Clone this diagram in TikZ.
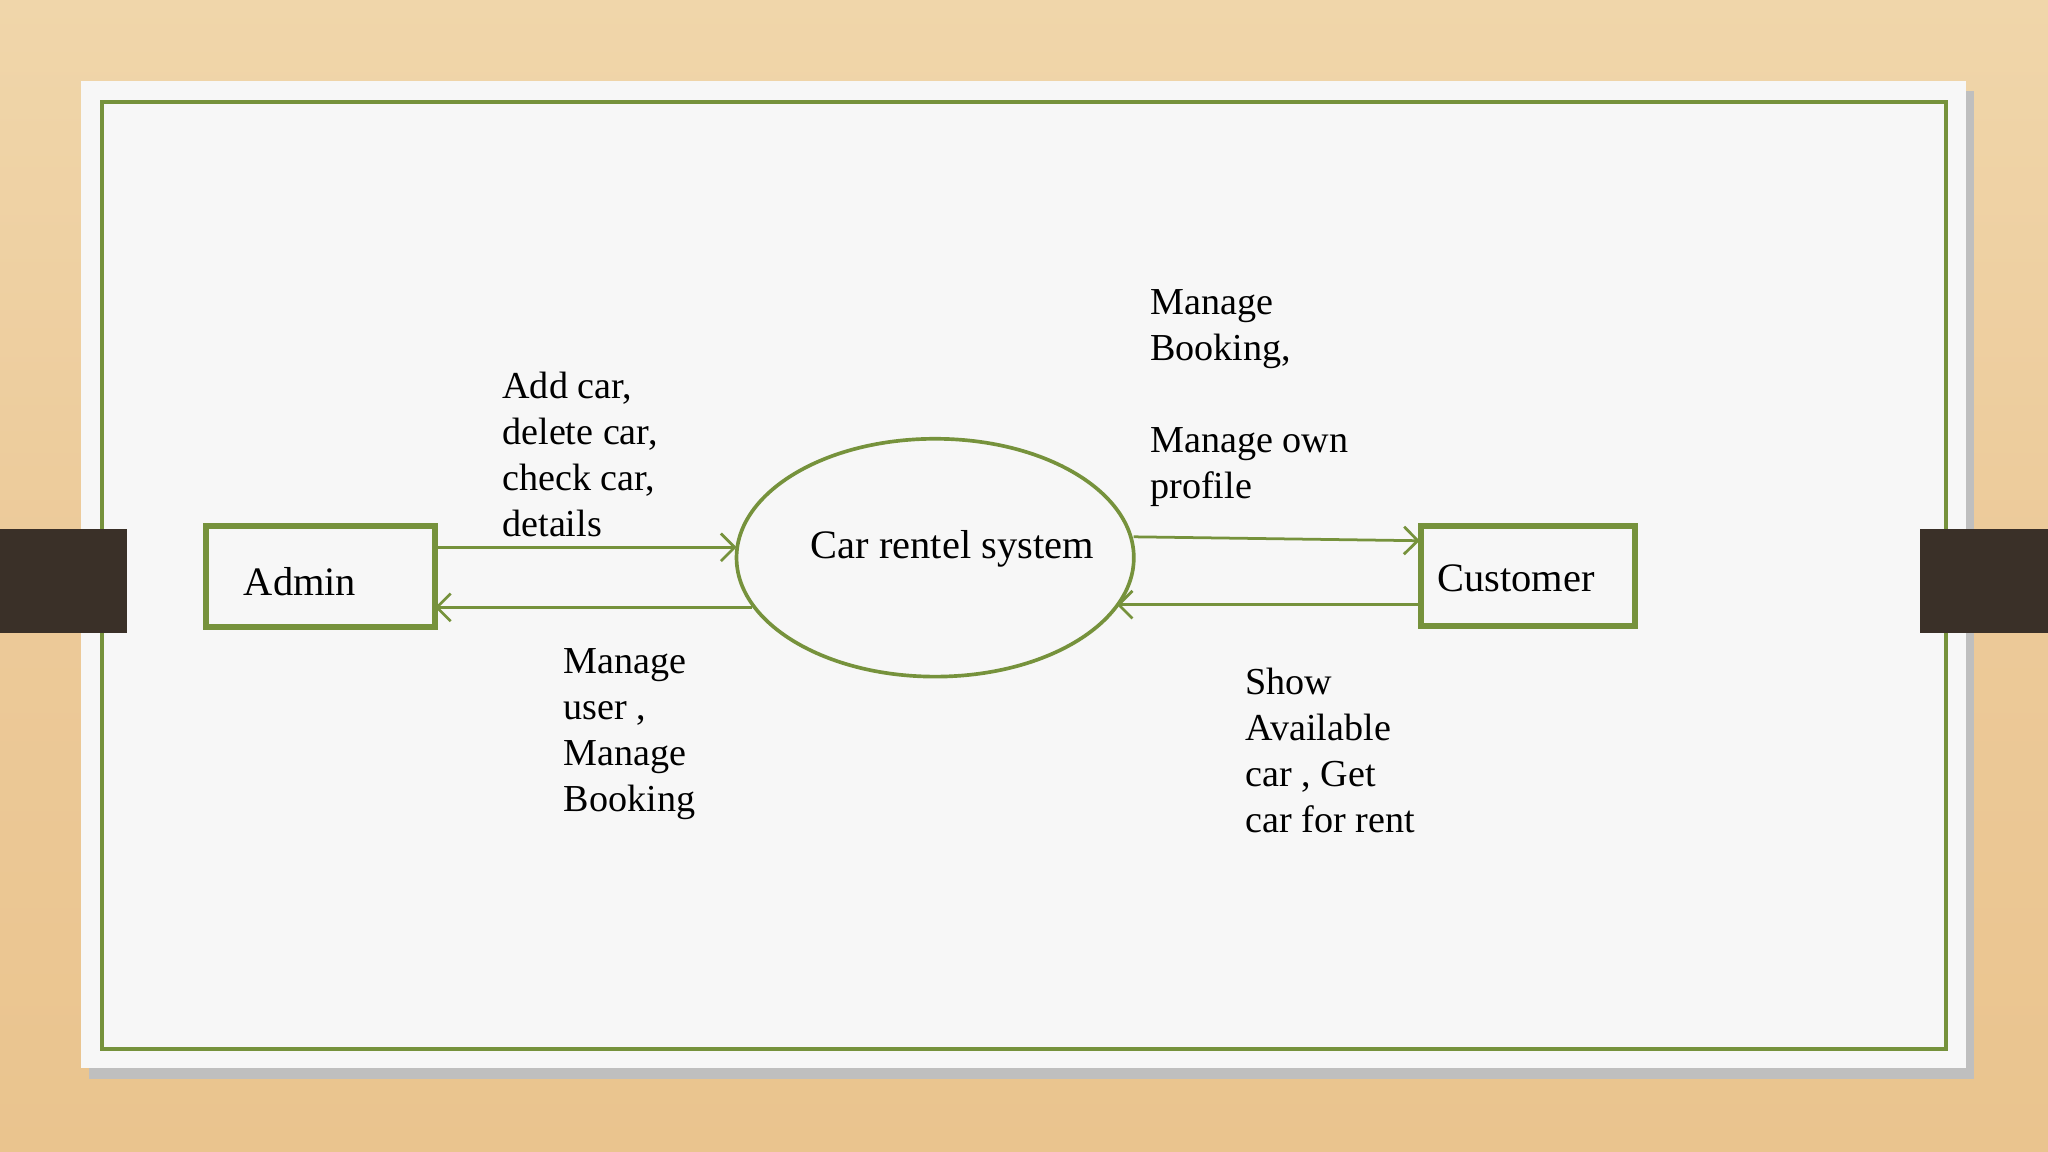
\documentclass[tikz,border=0pt]{standalone}
\usepackage{fontspec}
\setmainfont{Liberation Serif}
\usetikzlibrary{arrows.meta,shapes.geometric}
\definecolor{gr}{RGB}{118,146,60}
\definecolor{wood}{RGB}{234,196,142}
\definecolor{woodl}{RGB}{240,214,170}
\definecolor{tab}{RGB}{58,48,40}
\tikzset{ent/.style={draw=gr,line width=1.3pt,minimum width=1.75cm,minimum height=0.77cm},
 flow/.style={draw=gr,line width=0.6pt,-{Straight Barb[length=3pt]}},
 etxt/.style={anchor=west,inner sep=0pt,font=\fontsize{8.8}{10}\selectfont},
 lbl/.style={anchor=north west,align=left,font=\fontsize{8.3}{10}\selectfont,inner sep=0pt}}
\begin{document}
\begin{tikzpicture}[x=0.01cm,y=-0.01cm]
\useasboundingbox (0,0) rectangle (1568,882);
\shade[top color=woodl,bottom color=wood,middle color=wood!90!white] (0,0) rectangle (1568,882);
\fill[black!25] (68,70) rectangle (1511,826);
\fill[white!97!black] (62,62) rectangle (1505,818);
\draw[gr,line width=0.8pt] (78,78) rectangle (1490,803);
\fill[tab] (0,405) rectangle (97,485);
\fill[tab] (1470,405) rectangle (1568,485);
\node[ent] (admin) at (245.5,441.5) {};
\node[etxt] at (186,445) {Admin};
\node[ent,minimum width=1.64cm,minimum height=0.76cm] (cust) at (1170,441) {};
\node[etxt] at (1100,443) {Customer};
\node[draw=gr,line width=0.8pt,ellipse,minimum width=3.04cm,minimum height=1.82cm,inner sep=0pt] (sys) at (716,427) {};
\node[font=\fontsize{8.8}{10}\selectfont] at (729,420) {Car rentel system};
\coordinate (a1) at (333,419); \coordinate (e1) at (564,419);
\coordinate (e2) at (576,465); \coordinate (a2) at (333,465);
\coordinate (e3) at (868,411); \coordinate (c3) at (1087,414);
\coordinate (c4) at (1088,463); \coordinate (e4) at (855,463);
\draw[flow] (a1) -- (e1);
\draw[flow] (e2) -- (a2);
\draw[flow] (e3) -- (c3);
\draw[flow] (c4) -- (e4);
\node[lbl] at (384,284) {Add car,\\delete car,\\check car,\\details};
\node[lbl] at (431,496) {Manage\\user ,\\Manage\\Booking};
\node[lbl] at (880,221) {Manage\\Booking,\\[10pt]Manage own\\profile};
\node[lbl] at (953,511) {Show\\Available\\car , Get\\car for rent};
\end{tikzpicture}
\end{document}
